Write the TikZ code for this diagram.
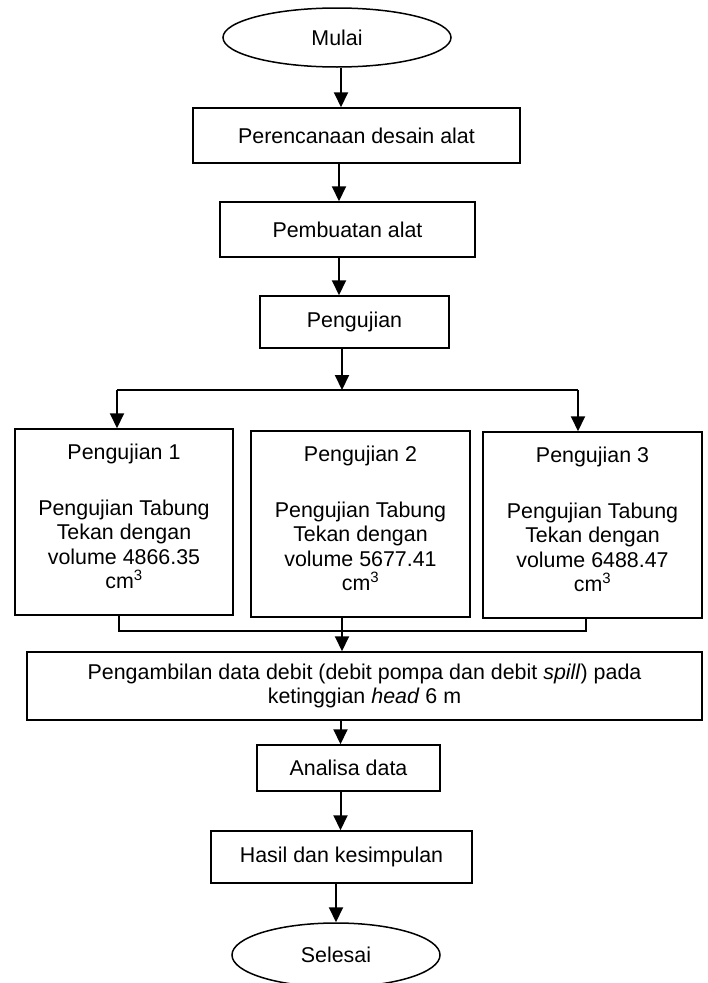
\documentclass[tikz,border=0pt]{standalone}
\usepackage{fontspec}
\setmainfont{Liberation Sans}
\usetikzlibrary{shapes.geometric,arrows.meta}

\begin{document}
\begin{tikzpicture}[x=1pt,y=-1pt,line width=1.5pt,
  >={Triangle[length=15pt,width=14pt]},
  every node/.style={font=\fontsize{21.4}{24.5}\selectfont},
  box/.style={draw,rectangle,inner sep=0pt,align=center},
  term/.style={draw,ellipse,inner sep=0pt},
  ujibox/.style={box,minimum width=219,minimum height=186,text depth=12pt},
  alir/.style={->,line width=2pt}]
  \useasboundingbox (0,0) rectangle (708,983);
  \node (mulai) at (337,37.5) [term,minimum width=228,minimum height=59]{Mulai};
  \node (perencanaan) at (356.5,135.5) [box,minimum width=327,minimum height=55]{Perencanaan desain alat};
  \node (pembuatan) at (347.5,229.5) [box,minimum width=255,minimum height=55]{Pembuatan alat};
  \node (pengujian) at (354.5,322) [box,minimum width=189,minimum height=52]{Pengujian};
  \node (uji1) at (124,522) [ujibox,minimum width=218]{Pengujian 1\\[31.5pt]Pengujian Tabung\\Tekan dengan\\volume 4866.35\\cm\textsuperscript{3}};
  \node (uji2) at (360.5,524) [ujibox]{Pengujian 2\\[31.5pt]Pengujian Tabung\\Tekan dengan\\volume 5677.41\\cm\textsuperscript{3}};
  \node (uji3) at (592.5,525) [ujibox]{Pengujian 3\\[31.5pt]Pengujian Tabung\\Tekan dengan\\volume 6488.47\\cm\textsuperscript{3}};
  \node (data) at (364.5,686) [box,minimum width=675,minimum height=68]{Pengambilan data debit (debit pompa dan debit \textit{spill}) pada\\ketinggian \textit{head} 6 m};
  \node (analisa) at (348.5,768) [box,minimum width=183,minimum height=46]{Analisa data};
  \node (hasil) at (341.5,857) [box,minimum width=261,minimum height=52]{Hasil dan kesimpulan};
  \node (selesai) at (336,955) [term,minimum width=208,minimum height=64]{Selesai};
  % alur utama
  \draw [alir] ([xshift=4pt]mulai.south) -- ([xshift=4pt]mulai.south |- perencanaan.north);
  \draw [alir] ([xshift=-8.5pt]pembuatan.north |- perencanaan.south) -- ([xshift=-8.5pt]pembuatan.north);
  \draw [alir] ([xshift=-8.5pt]pembuatan.south) -- ([xshift=-8.5pt]pembuatan.south |- pengujian.north);
  % percabangan pengujian
  \coordinate (cabkiri) at (117,390);
  \coordinate (cabkanan) at (578,390);
  \draw [alir] ([xshift=-12.5pt]pengujian.south) -- ([xshift=-12.5pt]pengujian.south |- cabkiri);
  \draw (cabkiri) -- (cabkanan);
  \draw [alir] (cabkiri) -- (cabkiri |- uji1.north);
  \draw [alir] (cabkanan) -- (cabkanan |- uji3.north);
  % penggabungan
  \coordinate (gabkiri) at (119,631);
  \coordinate (gabkanan) at (586,631);
  \draw (gabkiri |- uji1.south) -- (gabkiri) -- (gabkanan) -- (gabkanan |- uji3.south);
  \draw [alir] ([xshift=-18.5pt]uji2.south) -- ([xshift=-18.5pt]uji2.south |- data.north);
  \draw [alir] ([xshift=-8pt]analisa.north |- data.south) -- ([xshift=-8pt]analisa.north);
  \draw [alir] ([xshift=-8pt]analisa.south) -- ([xshift=-8pt]analisa.south |- hasil.north);
  \draw [alir] (hasil.south -| selesai) -- (selesai.north);
\end{tikzpicture}
\end{document}
